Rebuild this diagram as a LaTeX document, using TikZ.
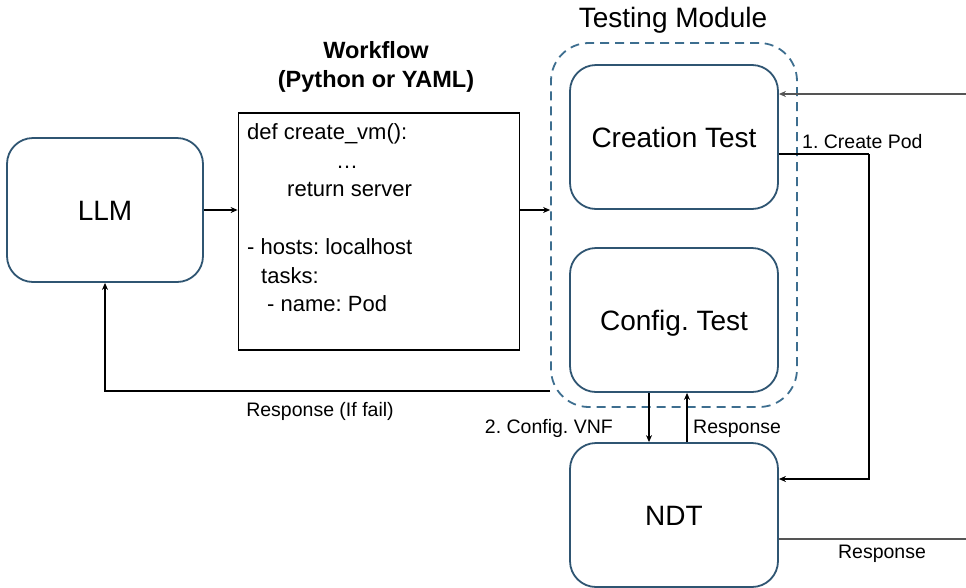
\documentclass[tikz,border=0pt]{standalone}
\usepackage{fontspec}
\setmainfont{Liberation Sans}
\usetikzlibrary{arrows.meta}
\definecolor{boxblue}{HTML}{2F5572}
\definecolor{dashblue}{HTML}{3D6E8F}
\definecolor{linegray}{HTML}{555555}
\frenchspacing
\begin{document}
\begin{tikzpicture}[x=1pt,y=-1pt,
  rbox/.style={draw=boxblue, line width=1.8pt, rounded corners=26pt,
    minimum width=208pt, minimum height=144pt, inner sep=0pt,
    text height=20pt, text depth=0pt, font=\fontsize{28}{34}\selectfont},
  codetxt/.style={anchor=base west, inner sep=0pt, font=\fontsize{22}{26}\selectfont},
  lbl/.style={inner sep=0pt, font=\fontsize{19.5}{23}\selectfont},
  ttl/.style={inner sep=0pt, anchor=base, font=\bfseries\fontsize{23.5}{28}\selectfont},
  arr/.style={-{Stealth[length=7pt,width=6pt]}, line width=1.1pt, black},
  plain/.style={line width=1.1pt, black},
  garr/.style={-{Stealth[length=7pt,width=6pt]}, line width=2pt, linegray},
  gline/.style={line width=2pt, linegray}
]
\useasboundingbox (0,0) rectangle (966,587);

% Testing module (dashed)
\node[draw=dashblue, line width=1.8pt, dash pattern=on 9pt off 6pt,
  rounded corners=38pt, minimum width=246pt, minimum height=364pt] (tm) at (674,225) {};
\node[anchor=base, inner sep=0pt, font=\fontsize{28}{34}\selectfont] (tmlabel) at (673,27) {Testing Module};

% boxes
\node[rbox, minimum width=196pt] (llm) at (105,210) {LLM};
\node[rbox] (ct) at (674,137) {Creation Test};
\node[rbox] (cfg) at (674,320) {Config. Test};
\node[rbox] (ndt) at (674,515) {NDT};

% workflow
\node[ttl] (wft1) at (376,58) {Workflow};
\node[ttl] (wft2) at (376,87) {(Python or YAML)};
\node[draw=black, line width=1.8pt, minimum width=281pt, minimum height=237pt] (wf) at (379,231.5) {};
\node[codetxt] (c1) at (247,139) {def create\_vm():};
\node[codetxt] (c2) at (336,168) {…};
\node[codetxt] (c3) at (287,196) {return server};
\node[codetxt] (c4) at (247,254) {- hosts: localhost};
\node[codetxt] (c5) at (261,283) {tasks:};
\node[codetxt] (c6) at (267,311) {- name: Pod};

% coordinates for free ends
\coordinate (inR) at (966,94);
\coordinate (outR) at (966,539);
\coordinate (cpA) at (869,154);
\coordinate (cpB) at (869,479);
\coordinate (rfA) at (105,391);

% connectors
\draw[arr] (llm.east |- 0,210) -- (wf.west |- 0,210);
\draw[arr] (wf.east |- 0,210) -- (tm.west |- 0,210);
\draw[garr] (inR) -- (ct.east |- inR);
\draw[plain] (ct.east |- cpA) -- (cpA);
\draw[arr] (cpA) -- (cpB) -- (ndt.east |- cpB);
\draw[arr] (cfg.south -| 649,0) -- (ndt.north -| 649,0);
\draw[arr] (ndt.north -| 687,0) -- (cfg.south -| 687,0);
\draw[arr] (tm.west |- rfA) -- (rfA) -- (llm.south);
\draw[gline] (ndt.east |- outR) -- (outR);

% labels
\node[lbl, anchor=base west] (l1) at (802,148) {1. Create Pod};
\node[lbl, anchor=base east] (l2) at (613,433) {2. Config. VNF};
\node[lbl, anchor=base west] (l3) at (693,433) {Response};
\node[lbl, anchor=base] (l4) at (882,558) {Response};
\node[lbl, anchor=base] (l5) at (320,416) {Response (If fail)};
\end{tikzpicture}
\end{document}
